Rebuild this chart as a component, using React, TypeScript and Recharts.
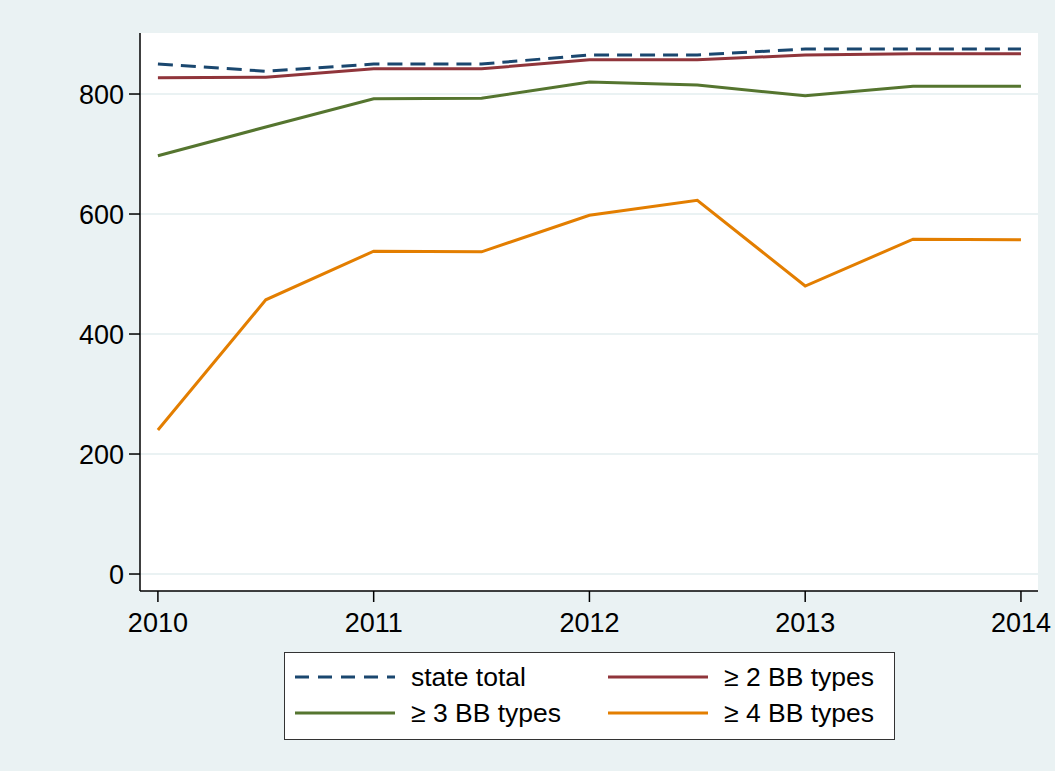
import { LineChart, Line, XAxis, YAxis, CartesianGrid } from 'recharts';

const years = [2010, 2010.5, 2011, 2011.5, 2012, 2012.5, 2013, 2013.5, 2014];
const stateTotal = [850, 838, 850, 850, 865, 865, 875, 875, 875];
const atLeast2 = [827, 828, 842, 842, 857, 857, 865, 867, 867];
const atLeast3 = [697, 745, 792, 793, 820, 815, 797, 813, 813];
const atLeast4 = [240, 457, 538, 537, 598, 623, 480, 558, 557];

const xTicks = [2010, 2011, 2012, 2013, 2014];
const yTicks = [0, 200, 400, 600, 800];

const BG = '#eaf2f3';
const FONT = '"Liberation Sans", Arial, Helvetica, sans-serif';

const SERIES = [
  { key: 'total', name: 'state total', color: '#1a476f', dash: '15 8' },
  { key: 'bb2', name: '\u2265 2 BB types', color: '#90353b', dash: undefined },
  { key: 'bb3', name: '\u2265 3 BB types', color: '#55752f', dash: undefined },
  { key: 'bb4', name: '\u2265 4 BB types', color: '#e37e00', dash: undefined },
];

const data = years.map((x, i) => ({
  x,
  total: stateTotal[i],
  bb2: atLeast2[i],
  bb3: atLeast3[i],
  bb4: atLeast4[i],
}));

function LegendBox() {
  // two columns: total / >=2 on top row, >=3 / >=4 below
  return (
    <div
      style={{
        position: 'absolute',
        left: 284,
        top: 652,
        width: 609,
        height: 86,
        background: '#fff',
        border: '1px solid #333',
        fontFamily: FONT,
        fontSize: 26.5,
        color: '#000',
      }}
    >
      {SERIES.map((s, i) => {
        const col = i % 2;
        const row = Math.floor(i / 2);
        const left = col === 0 ? 10 : 323;
        const cy = row === 0 ? 24 : 60;
        return (
          <div key={s.key} style={{ position: 'absolute', left, top: cy - 16, height: 32, display: 'flex', alignItems: 'center' }}>
            <svg width={100} height={6} style={{ display: 'block' }}>
              <line x1={0} y1={3} x2={100} y2={3} stroke={s.color} strokeWidth={3} strokeDasharray={s.dash ? '14 9' : undefined} />
            </svg>
            <span style={{ marginLeft: 16, whiteSpace: 'nowrap', lineHeight: '32px' }}>{s.name}</span>
          </div>
        );
      })}
    </div>
  );
}

export default function App() {
  return (
    <div style={{ position: 'absolute', left: 0, top: 0, width: 1055, height: 771, background: BG, fontFamily: FONT }}>
      <div style={{ position: 'absolute', left: 140, top: 33, width: 898, height: 558, background: '#fff' }} />
      <LineChart
        width={1055}
        height={771}
        data={data}
        margin={{ top: 33, right: 17, bottom: 120, left: 80 }}
        style={{ position: 'absolute', left: 0, top: 0 }}
      >
        <CartesianGrid vertical={false} stroke={BG} strokeWidth={2} horizontalValues={yTicks} />
        <XAxis
          dataKey="x"
          type="number"
          domain={[2009.917, 2014.079]}
          ticks={xTicks}
          allowDataOverflow
          height={60}
          tickSize={11}
          tickMargin={11}
          axisLine={{ stroke: '#000', strokeWidth: 1.5 }}
          tickLine={{ stroke: '#000', strokeWidth: 1.5 }}
          tick={{ fontSize: 27, fill: '#000', fontFamily: FONT }}
        />
        <YAxis
          type="number"
          domain={[-28.3, 901.7]}
          ticks={yTicks}
          allowDataOverflow
          width={60}
          tickSize={11}
          tickMargin={5}
          axisLine={{ stroke: '#000', strokeWidth: 1.5 }}
          tickLine={{ stroke: '#000', strokeWidth: 1.5 }}
          tick={{ fontSize: 27, fill: '#000', fontFamily: FONT }}
        />
        {SERIES.map((s) => (
          <Line
            key={s.key}
            dataKey={s.key}
            name={s.name}
            type="linear"
            stroke={s.color}
            strokeWidth={3}
            strokeDasharray={s.dash}
            dot={false}
            activeDot={false}
            isAnimationActive={false}
          />
        ))}
      </LineChart>
      <LegendBox />
    </div>
  );
}
